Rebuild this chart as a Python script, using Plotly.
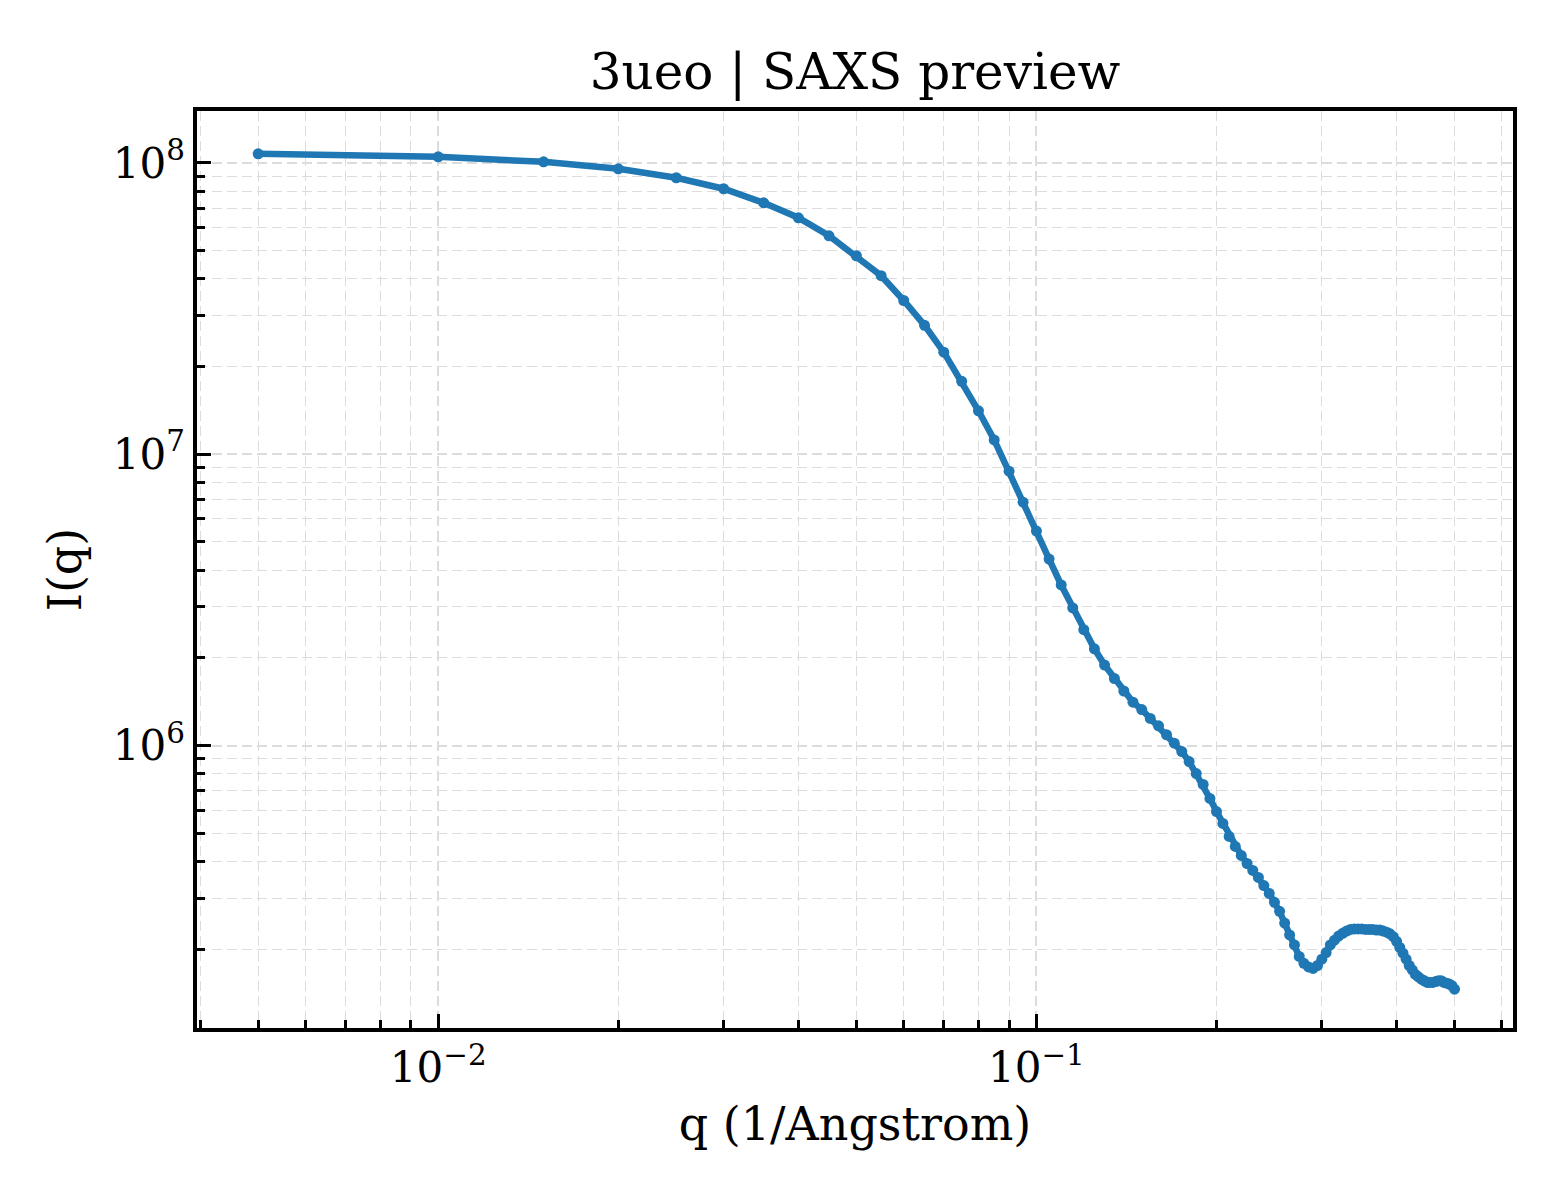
import plotly.graph_objects as go

# scattering vector q (1/Angstrom)
q = [0.005, 0.010, 0.015, 0.020, 0.025, 0.030, 0.035, 0.040, 0.045, 0.050,
     0.055, 0.060, 0.065, 0.070, 0.075, 0.080, 0.085, 0.090, 0.095, 0.100,
     0.105, 0.110, 0.115, 0.120, 0.125, 0.130, 0.135, 0.140, 0.145, 0.150,
     0.155, 0.160, 0.165, 0.170, 0.175, 0.180, 0.185, 0.190, 0.195, 0.200,
     0.205, 0.210, 0.215, 0.220, 0.225, 0.230, 0.235, 0.240, 0.245, 0.250,
     0.255, 0.260, 0.265, 0.270, 0.275, 0.280, 0.285, 0.290, 0.295, 0.300,
     0.305, 0.310, 0.315, 0.320, 0.325, 0.330, 0.335, 0.340, 0.345, 0.350,
     0.355, 0.360, 0.365, 0.370, 0.375, 0.380, 0.385, 0.390, 0.395, 0.400,
     0.405, 0.410, 0.415, 0.420, 0.425, 0.430, 0.435, 0.440, 0.445, 0.450,
     0.455, 0.460, 0.465, 0.470, 0.475, 0.480, 0.485, 0.490, 0.495, 0.500]

# intensity I(q)
intensity = [1.074e8, 1.049e8, 1.008e8, 9.54e7, 8.89e7, 8.15e7, 7.29e7, 6.48e7, 5.62e7, 4.80e7,
             4.10e7, 3.37e7, 2.77e7, 2.24e7, 1.78e7, 1.41e7, 1.12e7, 8.75e6, 6.85e6, 5.45e6,
             4.37e6, 3.56e6, 2.97e6, 2.50e6, 2.15e6, 1.89e6, 1.70e6, 1.54e6, 1.41e6, 1.33e6,
             1.24e6, 1.17e6, 1.09e6, 1.02e6, 9.54e5, 8.82e5, 8.02e5, 7.36e5, 6.59e5, 5.94e5,
             5.41e5, 4.88e5, 4.51e5, 4.20e5, 3.94e5, 3.73e5, 3.53e5, 3.31e5, 3.11e5, 2.90e5,
             2.70e5, 2.46e5, 2.24e5, 2.07e5, 1.89e5, 1.79e5, 1.74e5, 1.72e5, 1.76e5, 1.85e5,
             1.95e5, 2.07e5, 2.15e5, 2.22e5, 2.27e5, 2.31e5, 2.34e5, 2.35e5, 2.35e5, 2.35e5,
             2.34e5, 2.34e5, 2.34e5, 2.33e5, 2.33e5, 2.31e5, 2.29e5, 2.26e5, 2.21e5, 2.13e5,
             2.03e5, 1.94e5, 1.85e5, 1.76e5, 1.70e5, 1.64e5, 1.61e5, 1.58e5, 1.56e5, 1.54e5,
             1.54e5, 1.54e5, 1.55e5, 1.56e5, 1.56e5, 1.54e5, 1.53e5, 1.52e5, 1.50e5, 1.46e5]

x_ticks = [0.01, 0.1]
x_ticktext = ["10<sup>\u22122</sup>", "10<sup>\u22121</sup>"]
y_ticks = [1e6, 1e7, 1e8]
y_ticktext = ["10<sup>6</sup>", "10<sup>7</sup>", "10<sup>8</sup>"]

font = "DejaVu Serif"
grid = "#dcdcdc"

x_minor = [m * 10 ** e for e in (-3, -2, -1) for m in range(2, 10)]
y_minor = [m * 10 ** e for e in (5, 6, 7, 8) for m in range(2, 10)]

fig = go.Figure()

fig.add_trace(go.Scatter(x=q,
                         y=intensity,
                         mode="lines+markers",
                         line=dict(color="#1f77b4", width=6.5),
                         marker=dict(color="#1f77b4", size=11),
                         showlegend=False))

axis_common = dict(type="log",
                   showline=True,
                   linecolor="black",
                   linewidth=3.5,
                   mirror=True,
                   ticks="inside",
                   ticklen=14,
                   tickwidth=3,
                   tickcolor="black",
                   showgrid=True,
                   gridcolor=grid,
                   gridwidth=1.6,
                   griddash="10px,5px",
                   zeroline=False,
                   tickfont=dict(family=font, size=42, color="black"),
                   title_font=dict(family=font, size=46, color="black"))

minor_common = dict(tickmode="array", ticks="inside",
                    ticklen=8, tickwidth=2.5, tickcolor="black",
                    showgrid=True, gridcolor=grid, gridwidth=1.4,
                    griddash="10px,5px")

fig.update_xaxes(**axis_common,
                 range=[-2.4033, -0.2033],
                 tickmode="array",
                 tickvals=x_ticks,
                 ticktext=x_ticktext,
                 minor=dict(tickvals=x_minor, **minor_common),
                 title_text="q (1/Angstrom)",
                 title_standoff=18)

fig.update_yaxes(**axis_common,
                 range=[5.031, 8.178],
                 tickmode="array",
                 tickvals=y_ticks,
                 ticktext=y_ticktext,
                 minor=dict(tickvals=y_minor, **minor_common),
                 title_text="I(q)",
                 title_standoff=18)

# page body adds a small offset, so the figure is a bit smaller than the window
fig.update_layout(width=1552,
                  height=1192,
                  margin=dict(l=189, r=47, t=103, b=172),
                  paper_bgcolor="white",
                  plot_bgcolor="white",
                  title=dict(text="3ueo | SAXS preview",
                             x=(855 - 8) / 1552, xanchor="center",
                             y=1 - 63 / 1192, yanchor="middle",
                             font=dict(family=font, size=50, color="black")))

fig.write_html("out.html")
